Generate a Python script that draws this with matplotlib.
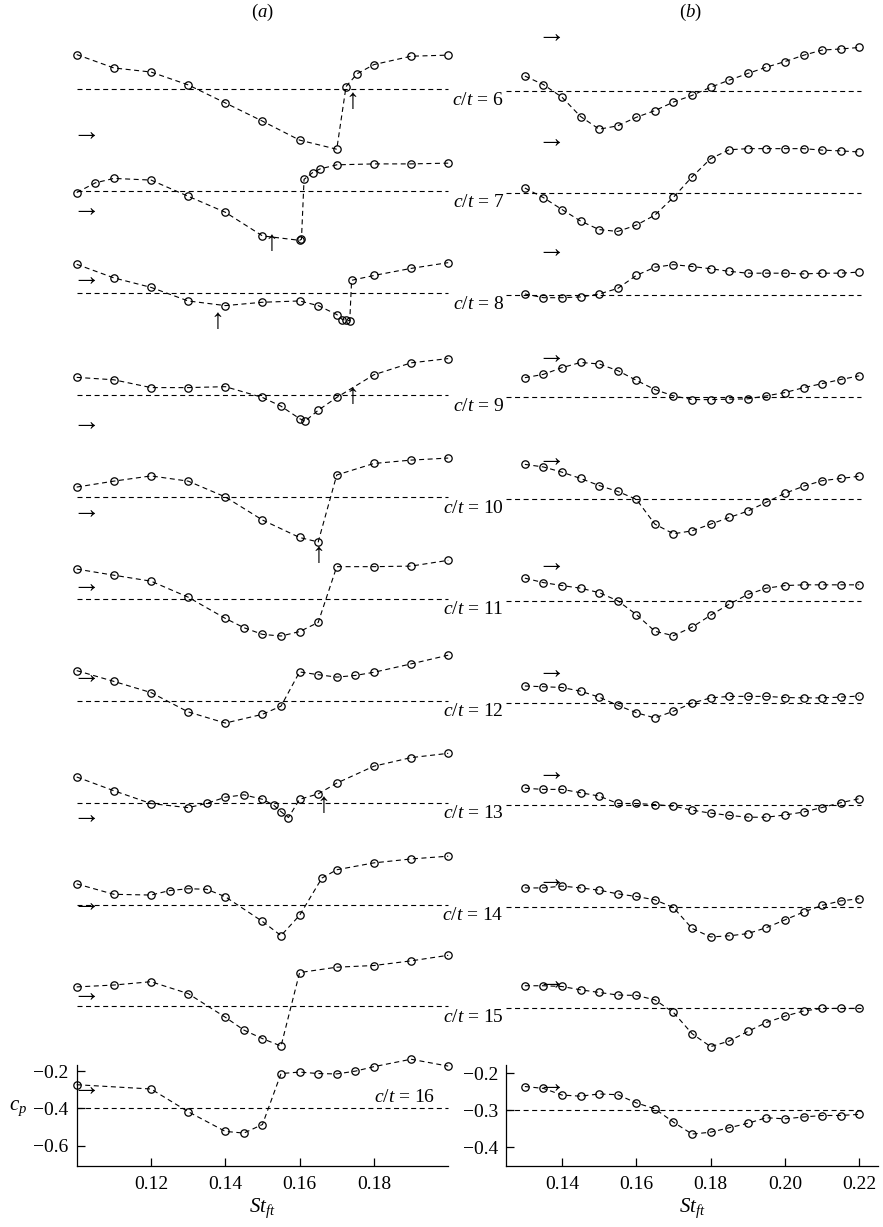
import numpy as np
import matplotlib
matplotlib.use("Agg")
import matplotlib.pyplot as plt

plt.rcParams["font.family"] = ["Liberation Serif", "DejaVu Serif"]
plt.rcParams["mathtext.fontset"] = "custom"
plt.rcParams["mathtext.rm"] = "Liberation Serif"
plt.rcParams["mathtext.it"] = "Liberation Serif:italic"
plt.rcParams["font.size"] = 13.5

ct = [6, 7, 8, 9, 10, 11, 12, 13, 14, 15, 16]

# dashed reference level of every panel (cp), column (a) and (b)
ref_a = -0.4
ref_b = -0.3

# column (a): St_ft and cp relative to the dashed level
st_a = [
    [0.10, 0.11, 0.12, 0.13, 0.14, 0.15, 0.16, 0.17, 0.1725, 0.1755, 0.18, 0.19, 0.20],
    [0.10, 0.105, 0.11, 0.12, 0.13, 0.14, 0.15, 0.16, 0.1605, 0.1612, 0.1635, 0.1655, 0.17, 0.18, 0.19, 0.20],
    [0.10, 0.11, 0.12, 0.13, 0.14, 0.15, 0.16, 0.165, 0.17, 0.1715, 0.1725, 0.1735, 0.174, 0.18, 0.19, 0.20],
    [0.10, 0.11, 0.12, 0.13, 0.14, 0.15, 0.155, 0.16, 0.1615, 0.165, 0.17, 0.18, 0.19, 0.20],
    [0.10, 0.11, 0.12, 0.13, 0.14, 0.15, 0.16, 0.165, 0.17, 0.18, 0.19, 0.20],
    [0.10, 0.11, 0.12, 0.13, 0.14, 0.145, 0.15, 0.155, 0.16, 0.165, 0.17, 0.18, 0.19, 0.20],
    [0.10, 0.11, 0.12, 0.13, 0.14, 0.15, 0.155, 0.16, 0.165, 0.17, 0.175, 0.18, 0.19, 0.20],
    [0.10, 0.11, 0.12, 0.13, 0.135, 0.14, 0.145, 0.15, 0.153, 0.155, 0.157, 0.16, 0.165, 0.17, 0.18, 0.19, 0.20],
    [0.10, 0.11, 0.12, 0.125, 0.13, 0.135, 0.14, 0.15, 0.155, 0.16, 0.166, 0.17, 0.18, 0.19, 0.20],
    [0.10, 0.11, 0.12, 0.13, 0.14, 0.145, 0.15, 0.155, 0.16, 0.17, 0.18, 0.19, 0.20],
    [0.10, 0.12, 0.13, 0.14, 0.145, 0.15, 0.155, 0.16, 0.165, 0.17, 0.175, 0.18, 0.19, 0.20],
]
dcp_a = [
    [0.187, 0.115, 0.093, 0.024, -0.073, -0.171, -0.273, -0.322, 0.015, 0.084, 0.133, 0.178, 0.184],
    [-0.007, 0.045, 0.069, 0.06, -0.027, -0.113, -0.24, -0.264, -0.258, 0.064, 0.1, 0.12, 0.142, 0.147, 0.147, 0.151],
    [0.155, 0.082, 0.031, -0.042, -0.067, -0.049, -0.042, -0.067, -0.115, -0.142, -0.145, -0.149, 0.069, 0.095, 0.133, 0.164],
    [0.095, 0.082, 0.04, 0.04, 0.045, -0.013, -0.06, -0.127, -0.14, -0.082, -0.013, 0.109, 0.173, 0.196],
    [0.053, 0.085, 0.113, 0.085, 0.0, -0.124, -0.218, -0.242, 0.118, 0.18, 0.198, 0.209],
    [0.16, 0.127, 0.095, 0.009, -0.105, -0.155, -0.191, -0.2, -0.176, -0.127, 0.173, 0.173, 0.176, 0.207],
    [0.162, 0.104, 0.044, -0.06, -0.12, -0.073, -0.029, 0.155, 0.14, 0.127, 0.136, 0.153, 0.198, 0.245],
    [0.138, 0.064, -0.005, -0.027, -0.004, 0.029, 0.042, 0.018, -0.013, -0.049, -0.08, 0.018, 0.047, 0.105, 0.196, 0.242, 0.265],
    [0.111, 0.055, 0.051, 0.075, 0.085, 0.082, 0.042, -0.091, -0.167, -0.058, 0.142, 0.187, 0.224, 0.245, 0.26],
    [0.105, 0.115, 0.133, 0.069, -0.058, -0.127, -0.173, -0.213, 0.182, 0.211, 0.22, 0.245, 0.275],
    [0.127, 0.104, -0.018, -0.124, -0.133, -0.087, 0.187, 0.195, 0.187, 0.185, 0.2, 0.224, 0.264, 0.227],
]

# column (b): same St_ft values in every panel
st_b = [0.130, 0.135, 0.140, 0.145, 0.150, 0.155, 0.160, 0.165, 0.170, 0.175,
        0.180, 0.185, 0.190, 0.195, 0.200, 0.205, 0.210, 0.215, 0.220]
dcp_b = [
    [0.041, 0.018, -0.016, -0.068, -0.102, -0.093, -0.070, -0.052, -0.029, -0.011, 0.011, 0.030, 0.048, 0.065, 0.080, 0.097, 0.111, 0.114, 0.118],
    [0.014, -0.012, -0.044, -0.075, -0.098, -0.103, -0.086, -0.059, -0.011, 0.044, 0.093, 0.117, 0.12, 0.12, 0.12, 0.12, 0.116, 0.114, 0.111],
    [0.003, -0.007, -0.007, -0.005, 0.003, 0.018, 0.053, 0.075, 0.082, 0.077, 0.071, 0.064, 0.059, 0.059, 0.059, 0.057, 0.059, 0.059, 0.062],
    [0.052, 0.061, 0.079, 0.093, 0.089, 0.071, 0.045, 0.02, 0.003, -0.007, -0.007, -0.006, -0.005, 0.003, 0.012, 0.025, 0.036, 0.047, 0.057],
    [0.093, 0.086, 0.072, 0.055, 0.036, 0.02, -0.001, -0.068, -0.094, -0.086, -0.068, -0.05, -0.033, -0.009, 0.015, 0.034, 0.049, 0.055, 0.061],
    [0.061, 0.049, 0.041, 0.034, 0.022, 0.0, -0.037, -0.082, -0.094, -0.071, -0.039, -0.009, 0.017, 0.034, 0.041, 0.043, 0.043, 0.043, 0.043],
    [0.045, 0.043, 0.041, 0.031, 0.015, -0.007, -0.027, -0.041, -0.023, -0.001, 0.013, 0.017, 0.017, 0.017, 0.014, 0.013, 0.013, 0.015, 0.018],
    [0.044, 0.041, 0.041, 0.032, 0.023, 0.003, 0.003, 0.0, -0.004, -0.015, -0.023, -0.029, -0.034, -0.034, -0.028, -0.02, -0.008, 0.005, 0.016],
    [0.05, 0.05, 0.055, 0.05, 0.044, 0.034, 0.027, 0.018, -0.003, -0.059, -0.082, -0.079, -0.073, -0.057, -0.036, -0.015, 0.003, 0.015, 0.021],
    [0.061, 0.061, 0.059, 0.05, 0.043, 0.036, 0.035, 0.023, -0.011, -0.068, -0.103, -0.088, -0.062, -0.038, -0.021, -0.007, 0.0, 0.0, 0.0],
    [0.064, 0.059, 0.041, 0.038, 0.044, 0.042, 0.02, 0.004, -0.032, -0.064, -0.059, -0.047, -0.035, -0.02, -0.023, -0.018, -0.014, -0.014, -0.011],
]

# horizontal arrows (position of the marker) and vertical arrows
harrow_a_st = 0.1025
harrow_a = [-0.24, -0.10, 0.076, -0.155, -0.082, 0.069, 0.131, -0.076, -0.004, 0.06, 0.104]
harrow_b_st = 0.137
harrow_b = [0.15, 0.141, 0.118, 0.107, 0.106, 0.097, 0.082, 0.082, 0.07, 0.068, 0.065]
varrow_a = {6: (0.1742, -0.067), 7: (0.1524, -0.28), 8: (0.1378, -0.155),
            9: (0.1742, -0.009), 10: (0.1649, -0.315), 13: (0.1664, -0.016)}

W, H = 883, 1227
fig = plt.figure(figsize=(W / 100, H / 100), dpi=100)

dash = (0, (4.5, 3.2))
lw = 0.8
row_step = 101.9
ax_h = 101.0
arrow_fs = 20

def px(xl, yb, w, h):
    return [xl / W, 1 - yb / H, w / W, h / H]

for i, c in enumerate(ct):
    yb = 1166 - (len(ct) - 1 - i) * row_step
    last = (i == len(ct) - 1)
    for col in range(2):
        if col == 0:
            ax = fig.add_axes(px(76.7, yb, 371.5, ax_h))
            ref, x, y = ref_a, st_a[i], ref_a + np.array(dcp_a[i])
            ax.set_xlim(0.10, 0.20)
            ax.set_ylim(ref - 0.31, ref + 0.233)
            xline = [0.10, 0.20]
        else:
            ax = fig.add_axes(px(506.3, yb, 371.5, ax_h))
            ref, x, y = ref_b, st_b, ref_b + np.array(dcp_b[i])
            ax.set_xlim(0.125, 0.225)
            ax.set_ylim(ref - 0.15, ref + 0.122)
            xline = [0.125, 0.2205]
        ax.patch.set_alpha(0)
        ax.plot(xline, [ref, ref], color="k", lw=lw, linestyle=dash, clip_on=False)
        ax.plot(x, y, color="k", lw=lw, linestyle=dash, marker="o", ms=5.3,
                mfc="none", mec="k", mew=0.9, clip_on=False)
        if col == 0:
            ax.text(harrow_a_st, ref + harrow_a[i], "\u2192", ha="center", va="center",
                    fontsize=arrow_fs, clip_on=False)
            if c in varrow_a:
                vx, vy = varrow_a[c]
                ax.text(vx, ref + vy, "\u2191", ha="center", va="center",
                        fontsize=arrow_fs, clip_on=False)
            label = r"$c/t$ = %d" % c
            if last:
                ax.annotate(label, xy=(0.964, ref), xycoords=("axes fraction", "data"),
                            xytext=(0, 8), textcoords="offset points",
                            ha="right", va="center", fontsize=14)
            else:
                ax.annotate(label, xy=(1.15, ref), xycoords=("axes fraction", "data"),
                            xytext=(0, -8), textcoords="offset points",
                            ha="right", va="center", fontsize=14, annotation_clip=False)
        else:
            ax.text(harrow_b_st, ref + harrow_b[i], "\u2192", ha="center", va="center",
                    fontsize=arrow_fs, clip_on=False)

        if last:
            ax.spines["right"].set_visible(False)
            ax.spines["top"].set_visible(False)
            for s in ("left", "bottom"):
                ax.spines[s].set_linewidth(0.9)
            ax.tick_params(direction="in", length=6, width=0.9, labelsize=14)
            ax.tick_params(axis="x", pad=7)
            ax.tick_params(axis="y", pad=6)
            if col == 0:
                ax.set_xticks([0.12, 0.14, 0.16, 0.18])
                ax.set_xticklabels(["0.12", "0.14", "0.16", "0.18"])
                ax.set_yticks([-0.2, -0.4, -0.6])
                ax.set_yticklabels(["\u22120.2", "\u22120.4", "\u22120.6"])
                ax.text(-0.158, ref, r"$c_p$", transform=ax.get_yaxis_transform(),
                        ha="center", va="center", fontsize=15)
            else:
                ax.set_xticks([0.14, 0.16, 0.18, 0.20, 0.22])
                ax.set_xticklabels(["0.14", "0.16", "0.18", "0.20", "0.22"])
                ax.set_yticks([-0.2, -0.3, -0.4])
                ax.set_yticklabels(["\u22120.2", "\u22120.3", "\u22120.4"])
            ax.set_xlabel(r"$St_{ft}$", fontsize=15, labelpad=3)
        else:
            ax.axis("off")

fig.text(262 / W, 1 - 12 / H, r"($a$)", ha="center", va="center", fontsize=13.5)
fig.text(690 / W, 1 - 12 / H, r"($b$)", ha="center", va="center", fontsize=13.5)

fig.savefig("out.png", dpi=100)
